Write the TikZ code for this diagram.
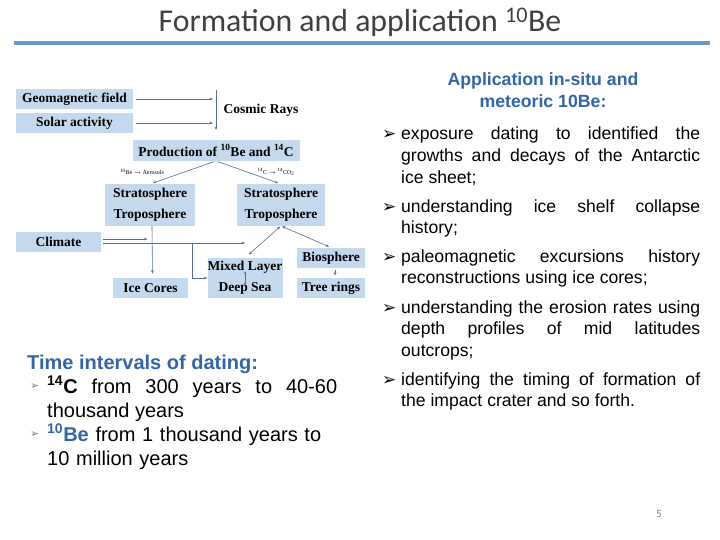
\documentclass[tikz,border=0pt]{standalone}
\usepackage{fontspec}
\usepackage{xcolor}
\usepackage{amsmath}
\usepackage{tikz}
\usetikzlibrary{arrows,arrows.meta,positioning,calc}
\setmainfont{Liberation Sans}
\newfontfamily\timesfont{Liberation Serif}
\newfontfamily\calfont{Carlito}
\newfontfamily\symfont{DejaVu Sans}
\definecolor{boxblue}{RGB}{197,217,238}
\definecolor{linkgray}{RGB}{84,112,150}
\definecolor{headblue}{RGB}{52,101,164}
\definecolor{rulerblue}{RGB}{104,152,196}
\definecolor{titlegray}{RGB}{64,64,64}

\begin{document}
\hyphenpenalty=10000
\exhyphenpenalty=10000
\tolerance=9999
\begin{tikzpicture}[
			x = 1pt, y = -1pt,
			box/.style = {fill=boxblue, inner sep=0pt, minimum height=20.5pt, font=\timesfont\bfseries\fontsize{13.5}{15}\selectfont},
			lbl/.style = {inner sep=0pt, font=\timesfont\bfseries\fontsize{13.5}{15}\selectfont},
			tinylbl/.style = {inner sep=0pt, font=\timesfont\fontsize{6}{7}\selectfont},
			flow/.style = {draw=linkgray, line width=0.6pt, -{Stealth[length=3.5pt,width=2.8pt]}},
			both/.style = {draw=linkgray, line width=0.6pt, {Stealth[length=3.5pt,width=2.8pt]}-{Stealth[length=3.5pt,width=2.8pt]}},
			bul/.style = {anchor=base west, inner sep=0pt, font=\symfont\fontsize{17}{17}\selectfont},
			head/.style = {anchor=base, inner sep=0pt, text=headblue, font=\bfseries\fontsize{17.7}{21.6}\selectfont},
			item/.style = {anchor=base west, inner sep=0pt, text width=299pt, align=justify, font=\fontsize{17.6}{21.6}\selectfont},
			leftitem/.style = {anchor=base west, inner sep=0pt, text width=290pt, align=justify, font=\fontsize{20}{24}\selectfont}]

			\useasboundingbox[fill=white] (0,0) rectangle (720,540);

			\node[anchor=base, inner sep=0pt, text=titlegray, font=\calfont\fontsize{31.8}{34}\selectfont] (title) at (360,32) {Formation and application \textsuperscript{10}Be};
			\draw[rulerblue, line width=4pt] (14,43) -- (710,43);

			\node[box, minimum width=117pt] (geo) at (74.5,99) {Geomagnetic field};
			\node[box, minimum width=117pt] (solar) at (74.5,123) {Solar activity};
			\coordinate (crTop) at (216,90);
			\coordinate (crBot) at (216,130);
			\node[lbl] (cosmic) at (261,110) {Cosmic Rays};
			\node[box, minimum width=167pt] (prod) at (216,150.5) {Production of \textsuperscript{10}Be and \textsuperscript{14}C};
			\node[tinylbl] (beaer) at (142,172) {\textsuperscript{10}Be $\rightarrow$ Aerosols};
			\node[tinylbl] (cco) at (276,172) {\textsuperscript{14}C $\rightarrow$ \textsuperscript{14}CO\textsubscript{2}};
			\node[box, minimum width=90pt] (strL) at (150,194.5) {Stratosphere};
			\node[box, minimum width=90pt] (tropL) at (150,215.5) {Troposphere};
			\node[box, minimum width=88pt] (strR) at (281,194.5) {Stratosphere};
			\node[box, minimum width=88pt] (tropR) at (281,215.5) {Troposphere};
			\node[box, minimum width=85pt] (climate) at (58.5,242) {Climate};
			\node[box, minimum width=75pt] (ice) at (150.5,288) {Ice Cores};
			\node[box, minimum width=75pt, minimum height=40pt] (mixed) at (245,278) {};
			\node[lbl] (mixA) at (245,267.5) {Mixed Layer};
			\node[lbl] (mixB) at (245,288.5) {Deep Sea};
			\node[box, minimum width=68pt] (bio) at (331,258) {Biosphere};
			\node[box, minimum width=68pt] (tree) at (331,288) {Tree rings};
			\coordinate (split) at (192,243);

			\draw[flow, shorten <=3pt, shorten >=3pt] (geo.east) -- (geo.east -| crTop);
			\draw[flow, shorten <=3pt, shorten >=3pt] (solar.east) -- (solar.east -| crTop);
			\draw[flow] (crTop) -- (crBot);
			\draw[flow, shorten <=2pt, shorten >=3pt] (prod.south) -- (strL.north);
			\draw[flow, shorten <=2pt, shorten >=3pt] (prod.south) -- (strR.north);
			\draw[flow, shorten >=4pt] ([xshift=2pt]tropL.south) -- ([xshift=2pt]ice.north);
			\draw[flow, shorten <=2pt, shorten >=3pt] ([yshift=3pt]climate.east) -- ([yshift=3pt]climate.east -| ice.north);
			\draw[flow, shorten <=2pt] ([yshift=-1pt]climate.east) -- ([yshift=-1pt]climate.east -| mixed.north);
			\draw[flow, line width=0.9pt] (split) |- (mixed.west);
			\draw[both, shorten <=5pt, shorten >=1pt] (mixed.north) -- (tropR.south);
			\draw[both, shorten <=1pt, shorten >=2pt] (tropR.south) -- (bio.north);
			\draw[flow, shorten <=2pt, shorten >=2pt] ([xshift=4pt]bio.south) -- ([xshift=4pt]tree.north);
			\draw[draw=linkgray, line width=0.5pt, shorten <=-2.5pt, shorten >=-2.5pt, {Stealth[length=2.5pt,width=2.4pt]}-{Stealth[length=2.5pt,width=2.4pt]}] (mixA) -- (mixB);

			\node[anchor=base west, inner sep=0pt, text=headblue, font=\bfseries\fontsize{20}{24}\selectfont] (timehead) at (27,369) {Time intervals of dating:};
			\node[bul, text=gray, font=\symfont\fontsize{11}{11}\selectfont] (tb1) at (30,389) {➢};
			\node[leftitem] (t1) at (47,393) {\textbf{\textsuperscript{14}C} from 300 years to 40-60 thousand years};
			\node[bul, text=gray, font=\symfont\fontsize{11}{11}\selectfont] (tb2) at (30,437) {➢};
			\node[leftitem, align=left] (t2) at (47,441) {\textcolor{headblue}{\textbf{\textsuperscript{10}Be}} from 1 thousand years to\\{}10 million years};

			\node[head] (apphead) at (543,86) {Application in-situ and};
			\node[head] (appsub) at (543,108) {meteoric 10Be:};
			\node[bul] (ab1) at (382,140) {➢};
			\node[item] (a1) at (401,140) {exposure dating to identified the growths and decays of the Antarctic ice sheet;};
			\node[bul] (ab2) at (382,212) {➢};
			\node[item] (a2) at (401,212) {understanding ice shelf collapse history;};
			\node[bul] (ab3) at (382,262) {➢};
			\node[item] (a3) at (401,262) {paleomagnetic excursions history reconstructions using ice cores;};
			\node[bul] (ab4) at (382,313) {➢};
			\node[item] (a4) at (401,313) {understanding the erosion rates using\linebreak depth profiles of mid latitudes\linebreak outcrops;};
			\node[bul] (ab5) at (382,385) {➢};
			\node[item] (a5) at (401,385) {identifying the timing of formation of\linebreak the impact crater and so forth.};

			\node[inner sep=0pt, text=gray, font=\calfont\fontsize{11}{12}\selectfont] (pagenum) at (659,514) {5};

		\end{tikzpicture}
\end{document}
